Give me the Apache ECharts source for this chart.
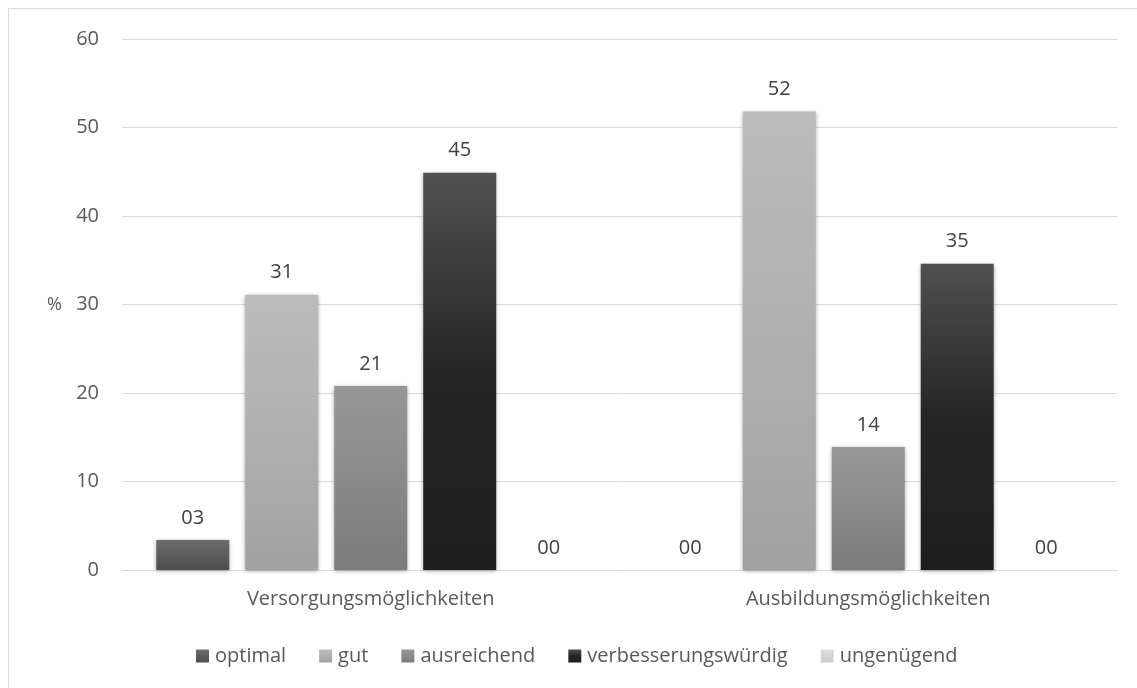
<!DOCTYPE html>
<html>
<head>
<meta charset="utf-8">
<script src="https://cdn.jsdelivr.net/npm/echarts@6/dist/echarts.min.js"></script>
<style>
  html, body { margin: 0; padding: 0; background: #fff; }
  #chart { width: 1137px; height: 688px; }
</style>
</head>
<body>
<div id="chart"></div>
<script>
// Survey results in percent, per rating and area
const categories = ['Versorgungsmöglichkeiten', 'Ausbildungsmöglichkeiten'];
const optimal = [3.4, 0];
const gut = [31.1, 51.8];
const ausreichend = [20.8, 13.9];
const verbesserungswuerdig = [44.9, 34.6];
const ungenuegend = [0, 0];
const seriesNames = ['optimal', 'gut', 'ausreichend', 'verbesserungswürdig', 'ungenügend'];
const yTicks = [0, 10, 20, 30, 40, 50, 60];

const FONT = '"Open Sans", sans-serif';
const FONT_SIZE = 20;

function grad(top, mid, bottom) {
  return new echarts.graphic.LinearGradient(0, 0, 0, 1, [
    { offset: 0, color: top },
    { offset: 0.5, color: mid },
    { offset: 1, color: bottom }
  ]);
}

const fills = [
  grad('#6c6c6c', '#5c5c5c', '#4e4e4e'),
  grad('#bcbcbc', '#b0b0b0', '#a2a2a2'),
  grad('#979797', '#8a8a8a', '#7b7b7b'),
  grad('#505050', '#252525', '#1e1e1e'),
  grad('#dcdcdc', '#d4d4d4', '#cdcdcd')
];

const values = [optimal, gut, ausreichend, verbesserungswuerdig, ungenuegend];

const chart = echarts.init(document.getElementById('chart'), null, { renderer: 'canvas' });

chart.setOption({
  backgroundColor: '#ffffff',
  animation: false,
  textStyle: { fontFamily: FONT },
  graphic: [{
    type: 'rect',
    shape: { x: 8.5, y: 8.5, width: 1140, height: 700 },
    style: { fill: 'none', stroke: '#d9d9d9', lineWidth: 1 },
    silent: true
  }],
  grid: { left: 122, right: 20, top: 39, bottom: 118, containLabel: false },
  legend: {
    top: 641,
    left: 191,
    icon: 'rect',
    itemWidth: 13,
    itemHeight: 13,
    itemGap: 33,
    textStyle: { fontFamily: FONT, fontSize: FONT_SIZE, color: '#595959', padding: [0, 0, 0, 1] },
    data: seriesNames
  },
  xAxis: {
    type: 'category',
    data: categories,
    axisLine: { lineStyle: { color: '#d9d9d9', width: 1 } },
    axisTick: { show: false },
    axisLabel: { fontFamily: FONT, fontSize: FONT_SIZE, color: '#595959', margin: 19 }
  },
  yAxis: {
    type: 'value',
    min: yTicks[0],
    max: yTicks[yTicks.length - 1],
    interval: 10,
    name: '%',
    nameLocation: 'middle',
    nameRotate: 0,
    nameGap: 60,
    nameTextStyle: { fontFamily: FONT, fontSize: 18, color: '#595959' },
    axisLine: { show: false },
    axisTick: { show: false },
    axisLabel: { fontFamily: FONT, fontSize: FONT_SIZE, color: '#595959', margin: 23 },
    splitLine: { lineStyle: { color: '#d9d9d9', width: 1 } }
  },
  series: seriesNames.map((name, i) => ({
    name: name,
    type: 'bar',
    data: values[i],
    barGap: '22%',
    barCategoryGap: '13.8%',
    itemStyle: {
      color: fills[i],
      shadowBlur: 4,
      shadowColor: 'rgba(0,0,0,0.35)',
      shadowOffsetY: 1
    },
    label: {
      show: true,
      position: 'top',
      distance: 12,
      fontFamily: FONT,
      fontSize: FONT_SIZE,
      color: '#404040',
      formatter: p => String(Math.round(p.value)).padStart(2, '0')
    }
  }))
});
</script>
</body>
</html>
